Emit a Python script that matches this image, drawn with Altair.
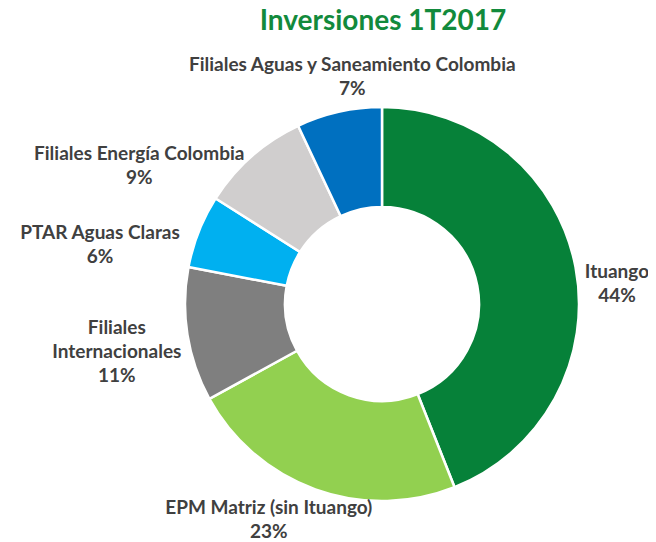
import altair as alt
import pandas as pd

# ---- data ----
title_text = ["Inversiones 1T2017"]
categories = [
    "Ituango",
    "EPM Matriz (sin Ituango)",
    "Filiales Internacionales",
    "PTAR Aguas Claras",
    "Filiales Energía Colombia",
    "Filiales Aguas y Saneamiento Colombia",
]
label_names = [
    "Ituango",
    "EPM Matriz (sin Ituango)",
    "Filiales\nInternacionales",
    "PTAR Aguas Claras",
    "Filiales Energía Colombia",
    "Filiales Aguas y Saneamiento Colombia",
]
values = [44, 23, 11, 6, 9, 7]

# ---- styles ----
colors = ["#068139", "#92D050", "#7F7F7F", "#00B0F0", "#D0CECE", "#0070C0"]
# offsets (dx, dy) of the first label line from the slice's mid-angle point
label_offsets = {
    "Ituango": (11, 11),
    "EPM Matriz (sin Ituango)": (-36, -11),
    "Filiales Internacionales": (-40, -12),
    "PTAR Aguas Claras": (-70, 13),
    "Filiales Energía Colombia": (-92, 21),
    "Filiales Aguas y Saneamiento Colombia": (20, -16),
}

df = pd.DataFrame({
    "cat": categories,
    "label": [n + "\n" + f"{v}%" for n, v in zip(label_names, values)],
    "value": values,
    "idx": list(range(len(categories))),
})

theta_scale = alt.Scale(domain=[0, 100])
base = alt.Chart(df)

arcs = base.mark_arc(innerRadius=97, outerRadius=197, stroke="white", strokeWidth=2.5).encode(
    theta=alt.Theta("value:Q", stack=True, scale=theta_scale),
    color=alt.Color("cat:N", scale=alt.Scale(domain=categories, range=colors), legend=None),
    order=alt.Order("idx:Q"),
)

label_layers = []
for cat in categories:
    dx, dy = label_offsets[cat]
    layer = (
        base.transform_window(cum="sum(value)", sort=[alt.SortField("idx")], frame=[None, 0])
        .transform_calculate(mid="datum.cum - datum.value / 2")
        .transform_filter(alt.datum.cat == cat)
        .mark_text(
            radius=228, dx=dx, dy=dy, align="center", baseline="middle", lineBreak="\n",
            font="Lato", fontWeight="bold", fontSize=19, lineHeight=24, color="#404040",
        )
        .encode(theta=alt.Theta("mid:Q", stack=None, scale=theta_scale), text="label:N")
    )
    label_layers.append(layer)

title = alt.Chart(pd.DataFrame({"t": title_text})).mark_text(
    font="Lato", fontWeight="bold", fontSize=28, color="#128A3C",
    align="center", baseline="top",
).encode(x=alt.value(201), y=alt.value(-96), text="t:N")

chart = alt.layer(arcs, *label_layers, title).properties(
    width=400, height=400,
    autosize=alt.AutoSizeParams(type="none"),
    padding={"left": 174, "top": 96, "right": 66, "bottom": 38},
).configure_view(stroke=None)

chart.save("out.html", embed_options={"renderer": "svg", "actions": False})
